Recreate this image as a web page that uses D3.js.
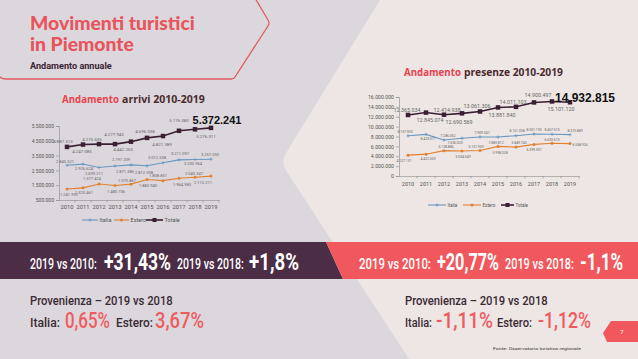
<!DOCTYPE html>
<html><head><meta charset="utf-8">
<script src="https://cdn.jsdelivr.net/npm/d3@7"></script>
<style>html,body{margin:0;padding:0;background:#dcd7dc;} svg{display:block}</style>
</head><body>
<svg id="c" width="638" height="359"></svg>
<script>
// ---------------- DATA ----------------
const years = [2010, 2011, 2012, 2013, 2014, 2015, 2016, 2017, 2018, 2019];
const arriviItalia = [2845521, 2926624, 2699211, 2797209, 2871386, 2812598, 3012538, 3211097, 3235964, 3257030];
const arriviEstero = [1241992, 1320461, 1577424, 1480736, 1570867, 1883940, 1808851, 1964983, 2040347, 2115211];
const arriviTotale = [4087513, 4247085, 4276635, 4277945, 4442253, 4696538, 4821389, 5176080, 5276311, 5372241];
const presenzeItalia = [8137903, 8423071, 7286052, 7636020, 7909347, 7883812, 8161358, 8501190, 8467510, 8373889];
const presenzeEstero = [4227131, 4422003, 5128886, 5054549, 5151959, 5998028, 5849745, 6399307, 6633610, 6558926];
const presenzeTotale = [12365034, 12845074, 12414938, 12690569, 13061306, 13881840, 14011103, 14900497, 15101120, 14932815];
const arriviTicks = [500000, 1500000, 2500000, 3500000, 4500000, 5500000];
const presenzeTicks = [0, 2000000, 4000000, 6000000, 8000000, 10000000, 12000000, 14000000, 16000000];
const seriesNames = ["Italia", "Estero", "Totale"];

// label placement (style): [dx, dy] per point
const arrPos = {
  Italia: [[-2,-4],[1,5],[-5,6],[6,-6],[-6,7],[-3,7],[-6,-5],[1,-6],[-2,4],[-1,-5]],
  Estero: [[2,6],[1,5],[-7,-5],[1,6],[-4,-4],[1,6],[-5,-5],[3,6],[-1,-4],[-8,7]],
  Totale: [[-4,-5],[-1,7],[-7,-5],[-1,-10],[-8,8],[-2,-6],[-1,8],[0,-10],[11,7],[6,-8]]
};
const presPos = {
  Italia: [[-3,-4],[2,4],[4,-4],[-7,5],[2,-4],[-2,6],[1,-5],[0,-4],[0,-4],[5,-4]],
  Estero: [[-4,6],[2,5],[2,-4],[1,6],[-4,-4],[2,6],[3,-4],[0,5],[0,-3],[10,1]],
  Totale: [[-1,-5],[4,8],[3,-5],[-3,9],[-3,-5],[4,8],[-3,-5],[4,-7],[9,8],[15,-4]]
};

// ---------------- STYLE ----------------
const colors = {Italia: "#6a98c0", Estero: "#e08232", Totale: "#3a1e33"};
const it = d3.formatLocale({decimal: ",", thousands: ".", grouping: [3], currency: ["", ""]});
const fmt = it.format(",d");
const svg = d3.select("#c");

// backgrounds
svg.append("rect").attr("width", 638).attr("height", 359).attr("fill", "#dcd7dc");
svg.append("path").attr("fill", "#ede6e4")
  .attr("d", "M380,0 L638,0 L638,359 L409,359 L287,172 Q280,162 286,153 Z");

// title badge outline
svg.append("path").attr("fill", "none").attr("stroke", "#e05a62").attr("stroke-width", 1.3)
  .attr("d", "M255,-2 L268,20 Q270,23 268,26 L235,77 Q234,79 231,79 L6,79 Q1,79 -1,76");

// text helper; optional width w fits text horizontally via a scale transform
function txt(x, y, s, o) {
  const t = svg.append("text").text(s)
    .attr("font-family", o.ff || "Roboto").attr("font-size", o.fs).attr("fill", o.c || "#333")
    .attr("font-weight", o.fw || "normal").attr("text-anchor", o.a || "start");
  if (o.w) {
    const len = t.node().getComputedTextLength();
    const sx = len > 0 ? o.w / len : 1;
    t.attr("transform", `translate(${x},${y}) scale(${sx},1)`);
  } else {
    t.attr("x", x).attr("y", y);
  }
  return t;
}

txt(30, 30, "Movimenti turistici", {ff: "Lato", fs: 19, fw: 900, c: "#e8545c", w: 165});
txt(30, 51, "in Piemonte", {ff: "Lato", fs: 19, fw: 900, c: "#e8545c", w: 104});
txt(30, 69, "Andamento annuale", {ff: "Roboto", fs: 9.5, fw: "bold", c: "#3a2434", w: 82});

// chart titles
function chartTitle(x, y, a, b, w1, w2) {
  txt(x, y, a, {ff: "Open Sans", fs: 10, fw: "bold", c: "#e8434f", w: w1});
  txt(x + w1 + 3, y, b, {ff: "Open Sans", fs: 10, fw: "bold", c: "#4a2a2e", w: w2});
}
chartTitle(62, 103, "Andamento", "arrivi 2010-2019", 57, 83);
chartTitle(404, 76, "Andamento", "presenze 2010-2019", 57, 99);

function drawChart(cfg) {
  const g = svg.append("g");
  const x = d3.scaleBand().domain(years).range([cfg.x0, cfg.x1]);
  const y = d3.scaleLinear().domain(cfg.domain).range([cfg.yb, cfg.yt]);
  const cx = d => x(d) + x.bandwidth() / 2;
  // y axis
  const ya = g.append("g").attr("transform", `translate(${cfg.x0},0)`)
    .call(d3.axisLeft(y).tickValues(cfg.ticks).tickFormat(fmt).tickSize(3).tickPadding(2));
  ya.select(".domain").attr("stroke", "#8a8a8a").attr("stroke-width", 0.6);
  ya.selectAll(".tick line").attr("stroke", "#8a8a8a").attr("stroke-width", 0.6);
  ya.selectAll("text").attr("font-family", "Roboto").attr("font-size", cfg.tickFs).attr("fill", "#555");
  // x axis
  const xa = g.append("g").attr("transform", `translate(0,${cfg.yb})`)
    .call(d3.axisBottom(x).tickSize(0).tickPadding(cfg.xPad));
  xa.select(".domain").attr("stroke", "#8a8a8a").attr("stroke-width", 0.6);
  xa.selectAll("text").attr("font-family", "Roboto").attr("font-size", cfg.xFs).attr("fill", "#555");
  g.selectAll(".xt").data(years.slice(1)).join("line").attr("class", "xt")
    .attr("x1", d => x(d)).attr("x2", d => x(d)).attr("y1", cfg.yb).attr("y2", cfg.yb + 2.5)
    .attr("stroke", "#8a8a8a").attr("stroke-width", 0.6);
  g.append("line").attr("x1", cfg.x1).attr("x2", cfg.x1).attr("y1", cfg.yb).attr("y2", cfg.yb + 2.5)
    .attr("stroke", "#8a8a8a").attr("stroke-width", 0.6);

  const line = d3.line().x((d, i) => cx(years[i])).y(d => y(d));
  seriesNames.forEach(name => {
    const vals = cfg.data[name];
    g.append("path").datum(vals).attr("d", line).attr("fill", "none")
      .attr("stroke", colors[name]).attr("stroke-width", name === "Totale" ? cfg.totW : cfg.lw);
    const m = g.selectAll(".m" + name).data(vals).join("g").attr("class", "m" + name)
      .attr("transform", (d, i) => `translate(${cx(years[i])},${y(d)})`);
    if (name === "Totale") {
      m.append("rect").attr("x", -cfg.sq / 2).attr("y", -cfg.sq / 2).attr("width", cfg.sq).attr("height", cfg.sq)
        .attr("fill", colors[name]);
    } else if (name === "Italia") {
      m.append("path").attr("d", "M-1.6,0 H1.6 M0,-1.6 V1.6").attr("stroke", colors[name]).attr("stroke-width", 0.8);
    } else {
      m.append("circle").attr("r", 1.5).attr("fill", colors[name]);
    }
    const pos = cfg.pos[name];
    vals.forEach((v, i) => {
      const big = name === "Totale" && i === vals.length - 1;
      const p = pos[i];
      const fs = big ? cfg.bigFs : (name === "Totale" ? cfg.totLabFs : cfg.labFs);
      txt(cx(years[i]) + p[0], y(v) + p[1] + fs * 0.35, fmt(v), {
        ff: big ? "Arial, Liberation Sans" : "Roboto", fs: fs, fw: big ? "bold" : "normal",
        c: big ? "#111" : "#666", a: "middle"
      });
    });
  });
  // legend
  cfg.legend.forEach((L, k) => {
    const name = seriesNames[k];
    g.append("line").attr("x1", L[0]).attr("x2", L[1]).attr("y1", cfg.legY).attr("y2", cfg.legY)
      .attr("stroke", colors[name]).attr("stroke-width", name === "Totale" ? cfg.totW : cfg.lw);
    const mx = (L[0] + L[1]) / 2;
    if (name === "Totale") g.append("rect").attr("x", mx - 2).attr("y", cfg.legY - 2).attr("width", 4).attr("height", 4).attr("fill", colors[name]);
    else if (name === "Italia") g.append("path").attr("d", `M${mx - 1.6},${cfg.legY} H${mx + 1.6} M${mx},${cfg.legY - 1.6} V${cfg.legY + 1.6}`).attr("stroke", colors[name]).attr("stroke-width", 0.8);
    else g.append("circle").attr("cx", mx).attr("cy", cfg.legY).attr("r", 1.5).attr("fill", colors[name]);
    txt(L[1] + 1.5, cfg.legY + 1.8, name, {fs: cfg.legFs, c: "#555"});
  });
}

drawChart({
  x0: 59, x1: 219, yb: 200, yt: 126, domain: [500000, 5500000], ticks: arriviTicks,
  tickFs: 5, xFs: 5.8, xPad: 5, lw: 1.1, totW: 1.6, sq: 4.5, labFs: 4, totLabFs: 4.4, bigFs: 11,
  data: {Italia: arriviItalia, Estero: arriviEstero, Totale: arriviTotale}, pos: arrPos,
  legend: [[82, 98], [114, 129], [146, 163]], legY: 220, legFs: 5.5
});
drawChart({
  x0: 399, x1: 579, yb: 176, yt: 97, domain: [0, 16000000], ticks: presenzeTicks,
  tickFs: 5.2, xFs: 5.5, xPad: 6, lw: 1.1, totW: 1.6, sq: 4.5, labFs: 3.4, totLabFs: 5.4, bigFs: 12,
  data: {Italia: presenzeItalia, Estero: presenzeEstero, Totale: presenzeTotale}, pos: presPos,
  legend: [[428, 446], [463, 481], [501, 514]], legY: 205, legFs: 4.5
});

// band
svg.append("path").attr("fill", "#4b2d46").attr("d", "M0,242 L326,242 L343,279 L0,279 Z");
svg.append("path").attr("fill", "#f0585d").attr("d", "M326,242 L638,242 L638,279 L343,279 Z");
const bandFont = "Roboto";
const sm = 15, bg = 23;
txt(30, 269, "2019 vs 2010:", {ff: bandFont, fs: sm, fw: 500, c: "#fff", w: 67});
txt(104, 270, "+31,43%", {ff: bandFont, fs: bg, fw: "bold", c: "#fff", w: 67});
txt(177, 269, "2019 vs 2018:", {ff: bandFont, fs: sm, fw: 500, c: "#fff", w: 67});
txt(249, 270, "+1,8%", {ff: bandFont, fs: bg, fw: "bold", c: "#fff", w: 50});
txt(359, 269, "2019 vs 2010:", {ff: bandFont, fs: sm, fw: 500, c: "#fff", w: 72});
txt(437, 270, "+20,77%", {ff: bandFont, fs: bg, fw: "bold", c: "#fff", w: 62});
txt(505, 269, "2019 vs 2018:", {ff: bandFont, fs: sm, fw: 500, c: "#fff", w: 69});
txt(580, 270, "-1,1%", {ff: bandFont, fs: bg, fw: "bold", c: "#fff", w: 43});

// provenienza
const dark = "#3a2a35", red = "#ef5a5e";
txt(30, 305, "Provenienza – 2019 vs 2018", {ff: bandFont, fs: 13.5, fw: 500, c: dark, w: 143});
txt(30, 327, "Italia:", {ff: bandFont, fs: 13.5, fw: 500, c: dark, w: 30});
txt(65, 328, "0,65%", {ff: bandFont, fs: 22, fw: 500, c: red, w: 45});
txt(116, 327, "Estero:", {ff: bandFont, fs: 13.5, fw: 500, c: dark, w: 37});
txt(155, 328, "3,67%", {ff: bandFont, fs: 22, fw: 500, c: red, w: 49});
txt(405, 305, "Provenienza – 2019 vs 2018", {ff: bandFont, fs: 13.5, fw: 500, c: dark, w: 143});
txt(405, 327, "Italia:", {ff: bandFont, fs: 13.5, fw: 500, c: dark, w: 27});
txt(436, 328, "-1,11%", {ff: bandFont, fs: 22, fw: 500, c: red, w: 57});
txt(497, 327, "Estero:", {ff: bandFont, fs: 13.5, fw: 500, c: dark, w: 35});
txt(538, 328, "-1,12%", {ff: bandFont, fs: 22, fw: 500, c: red, w: 53});

// page tab & source
svg.append("path").attr("fill", "#f0585d").attr("d", "M611,321 L638,321 L638,342 L607,342 L603,333 Z");
txt(622, 334, "7", {fs: 6, c: "#fff", a: "middle"});
txt(493, 350, "Fonte: Osservatorio turistico regionale", {fs: 3.6, c: "#333", w: 88});
</script>
</body></html>
